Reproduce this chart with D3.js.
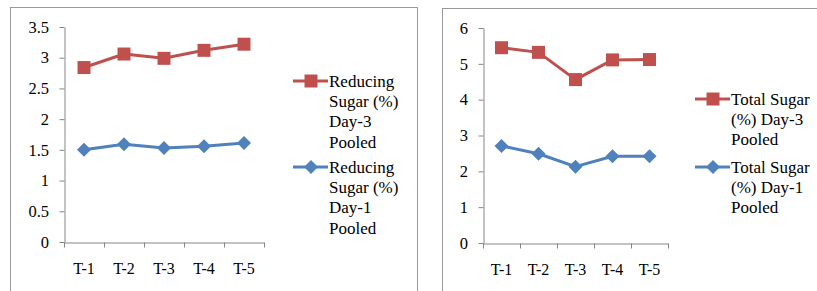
<!DOCTYPE html>
<html>
<head>
<meta charset="utf-8">
<script src="https://cdn.jsdelivr.net/npm/d3@7"></script>
</head>
<body style="margin:0">
<script>
// categories shared by both panels
let treatments = ["T-1", "T-2", "T-3", "T-4", "T-5"];

// left panel: reducing sugar
let reducingDay3 = [2.84, 3.06, 2.99, 3.12, 3.22];
let reducingDay1 = [1.50, 1.59, 1.53, 1.56, 1.61];
let reducingTicks = [0, 0.5, 1, 1.5, 2, 2.5, 3, 3.5];
let reducingLegend = [
  ["Reducing", "Sugar (%)", "Day-3", "Pooled"],
  ["Reducing", "Sugar (%)", "Day-1", "Pooled"],
];

// right panel: total sugar
let totalDay3 = [5.45, 5.32, 4.56, 5.11, 5.12];
let totalDay1 = [2.71, 2.49, 2.13, 2.42, 2.42];
let totalTicks = [0, 1, 2, 3, 4, 5, 6];
let totalLegend = [
  ["Total Sugar", "(%) Day-3", "Pooled"],
  ["Total Sugar", "(%) Day-1", "Pooled"],
];

const RED = "#C0504D";
const BLUE = "#4F81BD";
const AXIS = "#868686";

let svg = d3.select("body").append("svg").attr("width", 817).attr("height", 291);

function serifText(sel, size) {
  sel.style("font-family", '"Liberation Serif", monospace')
    .style("font-size", size + "px")
    .attr("font-family", (d) => '"Liberation Serif", monospace');
  return sel;
}

function drawPanel(p) {
  let g = svg.append("g");
  // outer frame
  g.append("rect")
    .attr("x", p.frame[0] + 0.5).attr("y", p.frame[1] + 0.5)
    .attr("width", p.frame[2]).attr("height", p.frame[3])
    .attr("fill", "none").attr("stroke", "#9a9a9a");

  let x = d3.scaleBand().domain(treatments).range([p.x0, p.x1]);
  let xb = d3.scaleLinear().domain([0, treatments.length]).range([p.x0, p.x1]);
  let y = d3.scaleLinear().domain([0, d3.max(p.ticks)]).range([p.y0, p.y1]);

  // y axis: line and ticks from d3, labels drawn as plain text
  let ay = g.append("g").attr("transform", `translate(${p.x0 + 0.5},0)`)
    .call(d3.axisLeft(y).tickValues(p.ticks).tickSize(5).tickSizeOuter(0).tickFormat(""));
  ay.select(".domain").attr("stroke", AXIS);
  ay.selectAll(".tick line").attr("stroke", AXIS);

  g.selectAll(".ylab").data(p.ticks).join("text")
    .attr("class", "ylab")
    .attr("x", p.x0 - 15)
    .attr("y", (d) => y(d))
    .attr("dy", "0.35em")
    .attr("text-anchor", "end")
    .call(serifText, 16.5)
    .text((d) => d);

  // x axis with ticks at category boundaries
  let ax = g.append("g").attr("transform", `translate(0,${p.y0 + 0.5})`)
    .call(d3.axisBottom(xb).tickValues(d3.range(treatments.length + 1)).tickSize(5)
      .tickSizeOuter(0).tickFormat(""));
  ax.select(".domain").attr("stroke", AXIS);
  ax.selectAll(".tick line").attr("stroke", AXIS);

  g.selectAll(".xlab").data(treatments).join("text")
    .attr("class", "xlab")
    .attr("x", (d) => x(d) + x.bandwidth() / 2)
    .attr("y", p.y0 + 26)
    .attr("dy", "0.35em")
    .attr("text-anchor", "middle")
    .call(serifText, 16)
    .text((d) => d);

  let line = d3.line().x((d, i) => x(treatments[i]) + x.bandwidth() / 2).y((d) => y(d));

  p.series.forEach((s) => {
    g.append("path").attr("d", line(s.values))
      .attr("fill", "none").attr("stroke", s.color).attr("stroke-width", 3)
      .attr("stroke-linejoin", "round");
    g.selectAll(null).data(s.values).join("path")
      .attr("transform", (d, i) => `translate(${x(treatments[i]) + x.bandwidth() / 2},${y(d)})`)
      .attr("d", s.shape)
      .attr("fill", s.color);
  });

  // legend
  p.series.forEach((s, k) => {
    let ly = p.legendY[k];
    g.append("line")
      .attr("x1", p.legendX - 36).attr("x2", p.legendX - 1)
      .attr("y1", ly).attr("y2", ly)
      .attr("stroke", s.color).attr("stroke-width", 3);
    g.append("path").attr("transform", `translate(${p.legendX - 18},${ly})`)
      .attr("d", s.shape).attr("fill", s.color);
    g.selectAll(null).data(p.legend[k]).join("text")
      .attr("x", p.legendX)
      .attr("y", (d, i) => ly + i * 20.2)
      .attr("dy", "0.35em")
      .call(serifText, 17)
      .text((d) => d);
  });
}

let square = "M-6.5,-6.5H6.5V6.5H-6.5Z";
let diamond = "M0,-7L7,0L0,7L-7,0Z";

drawPanel({
  frame: [10, 7, 407, 300],
  x0: 64, x1: 264, y0: 242, y1: 27,
  ticks: reducingTicks,
  series: [
    { values: reducingDay3, color: RED, shape: square },
    { values: reducingDay1, color: BLUE, shape: diamond },
  ],
  legend: reducingLegend,
  legendX: 329, legendY: [81, 167],
});

drawPanel({
  frame: [442, 8, 400, 300],
  x0: 483, x1: 668, y0: 243, y1: 28,
  ticks: totalTicks,
  series: [
    { values: totalDay3, color: RED, shape: square },
    { values: totalDay1, color: BLUE, shape: diamond },
  ],
  legend: totalLegend,
  legendX: 731, legendY: [99, 167],
});
</script>
</body>
</html>
